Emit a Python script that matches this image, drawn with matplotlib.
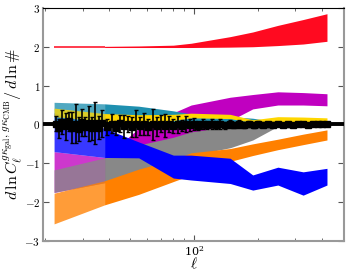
import numpy as np
import matplotlib.pyplot as plt
from matplotlib.ticker import FuncFormatter, LogLocator

plt.rcParams['mathtext.fontset'] = 'cm'
plt.rcParams['font.family'] = 'DejaVu Serif'

# band nodes in ell
ell = [22, 38, 55, 80, 97, 148, 189, 248, 326, 422]

red_lo = [1.98, 1.98, 1.98, 1.98, 1.98, 1.99, 2.00, 2.03, 2.07, 2.14]
red_hi = [2.01, 2.01, 2.02, 2.04, 2.09, 2.26, 2.38, 2.55, 2.70, 2.85]
mag_lo = [-1.75, -1.50, -0.90, -0.50, -0.30, 0.10, 0.40, 0.50, 0.50, 0.48]
mag_hi = [-0.70, -0.85, -0.10, 0.30, 0.50, 0.70, 0.77, 0.84, 0.82, 0.79]
gray_lo = [-1.75, -1.50, -1.20, -0.95, -0.80, -0.60, -0.40, -0.05, 0.00, 0.00]
gray_hi = [-1.17, -0.86, -0.53, -0.33, -0.19, -0.05, 0.00, 0.00, 0.00, 0.00]
orange_lo = [-2.56, -2.07, -1.80, -1.47, -1.30, -0.95, -0.80, -0.65, -0.52, -0.40]
orange_hi = [-1.77, -1.45, -1.15, -0.90, -0.73, -0.62, -0.50, -0.38, -0.25, -0.14]
blue_lo = [-0.70, -0.85, -0.86, -1.38, -1.43, -1.52, -1.69, -1.56, -1.82, -1.56]
blue_hi = [0.30, -0.10, -0.45, -0.79, -0.79, -0.87, -1.30, -1.10, -1.22, -1.13]
teal_lo = [0.00, 0.00, 0.00, 0.00, 0.00, 0.02, 0.02, 0.00, 0.00, 0.00]
teal_hi = [0.57, 0.53, 0.47, 0.35, 0.27, 0.20, 0.16, 0.06, 0.02, 0.00]
yel_lo = [0.20, 0.08, 0.08, 0.10, 0.17, 0.15, 0.05, 0.05, 0.05, 0.05]
yel_hi = [0.42, 0.28, 0.25, 0.26, 0.29, 0.26, 0.12, 0.20, 0.19, 0.17]

# measured points
pt_ell = [22.5, 23.3, 24.1, 25, 25.9, 26.8, 27.8, 28.8, 29.8, 30.9, 32, 33.2,
          34.4, 35.6, 36.9,
          39, 41, 43, 45, 47, 49, 51, 53.5, 56, 58.5, 61, 64, 67, 70, 73, 76,
          80, 84, 88, 92, 96,
          100, 105, 110, 115, 121, 127, 133, 140, 147, 155, 163, 172, 181,
          191, 201, 212, 224, 236, 249, 262, 276, 291, 307, 324, 342, 361,
          381, 402, 424]
pt_val = [0.02, -0.10, 0.06, -0.05, 0.08, -0.08, 0.02, -0.12, 0.05, -0.06, 0.03, -0.10,
          0.04, -0.08, 0.03,
          -0.06, 0.02, -0.08, 0.03, -0.05, 0.01, -0.07, 0.02, -0.04, 0.02, -0.06, 0.01, -0.05,
          0.02, -0.03, 0.01,
          -0.04, 0.01, -0.03, 0.01, -0.02,
          0.01, -0.03, 0.01, -0.02, 0.01, -0.02, 0.01, -0.02, 0.01, -0.01, 0.01, -0.02, 0.01,
          -0.01, 0.01, -0.01, 0.00, -0.01, 0.01, -0.01, 0.00, -0.01, 0.01, 0.00, -0.01, 0.00,
          0.00, 0.00, 0.00]
pt_err = [0.20, 0.25, 0.30, 0.35, 0.25, 0.40, 0.50, 0.30, 0.35, 0.25, 0.45, 0.30,
          0.55, 0.30, 0.35,
          0.20, 0.25, 0.18, 0.22, 0.30, 0.20, 0.25, 0.35, 0.22, 0.28, 0.20, 0.40, 0.25,
          0.22, 0.30, 0.20,
          0.18, 0.22, 0.15, 0.20, 0.15,
          0.15, 0.12, 0.14, 0.10, 0.12, 0.10, 0.12, 0.09, 0.10, 0.08, 0.10, 0.08, 0.08,
          0.07, 0.08, 0.06, 0.07, 0.06, 0.06, 0.05, 0.06, 0.05, 0.05, 0.05, 0.04, 0.04,
          0.04, 0.04, 0.04]

bands = [(mag_lo, mag_hi, '#c000c0'),
         (gray_lo, gray_hi, '#888888'),
         (orange_lo, orange_hi, '#ff8000'),
         (blue_lo, blue_hi, '#0000ff'),
         (teal_lo, teal_hi, '#1f90b0'),
         (yel_lo, yel_hi, '#ffd700'),
         (red_lo, red_hi, '#ff0a20')]

fig = plt.figure(figsize=(3.49, 2.72), dpi=100)
ax = fig.add_axes([0.123, 0.114, 0.863, 0.857])

for lo, hi, c in bands:
    # first bin drawn lighter
    ax.fill_between(ell[:2], lo[:2], hi[:2], color=c, alpha=0.78, lw=0)
    ax.fill_between(ell[1:], lo[1:], hi[1:], color=c, lw=0)

ax.axhline(0, color='k', lw=2.8, zorder=5)
ax.errorbar(pt_ell, pt_val, yerr=pt_err, fmt='s', color='k', ms=5,
            elinewidth=1.2, capsize=1.5, zorder=6)

ax.set_xscale('log')
ax.set_xlim(19.5, 508)
ax.set_ylim(-3, 3)
ax.set_yticks([-3, -2, -1, 0, 1, 2, 3])
ax.yaxis.set_major_formatter(FuncFormatter(lambda v, p: r'$%d$' % v))
ax.xaxis.set_major_locator(LogLocator(base=10))
ax.xaxis.set_minor_locator(LogLocator(base=10, subs=np.arange(2, 10)))
ax.tick_params(which='both', direction='in', top=True, right=True, labelsize=8,
               color='#555555', pad=2)
ax.tick_params(which='major', length=4)
ax.tick_params(which='minor', length=2)
ax.tick_params(axis='x', which='minor', labelbottom=False)

for s in ['left', 'right', 'bottom']:
    ax.spines[s].set_color('#999999')
    ax.spines[s].set_linewidth(1.5)
ax.spines['top'].set_linewidth(0.8)

ax.set_xlabel(r'$\ell$', fontsize=11, labelpad=-1)
ax.set_ylabel(r'$d\,\ln C_\ell^{g\kappa_{\rm gal},\,g\kappa_{\rm CMB}}/\,d\,\ln\#$',
              fontsize=11.5)
ax.yaxis.set_label_coords(-0.06, 0.5)

fig.savefig('out.png', dpi=100)
